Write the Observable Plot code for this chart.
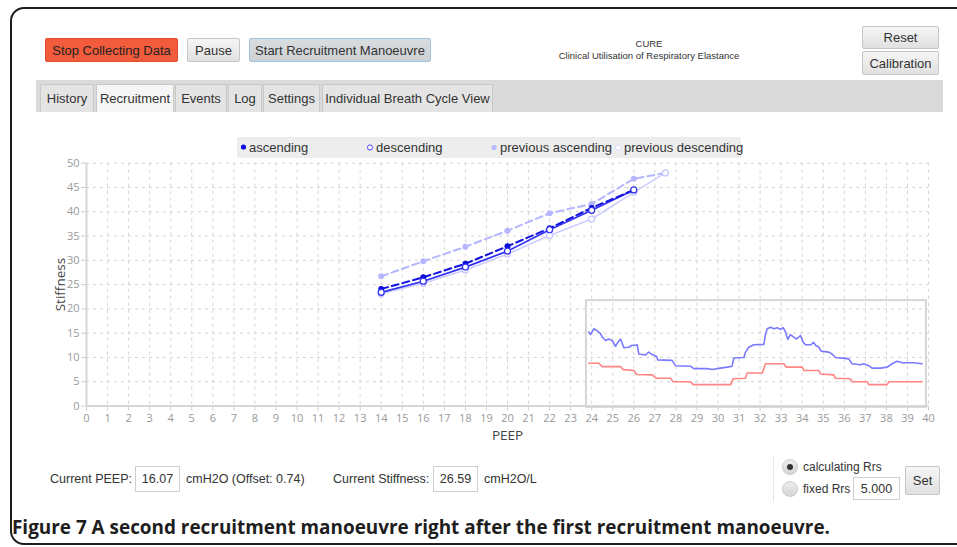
<!DOCTYPE html>
<html>
<head>
<meta charset="utf-8">
<script src="https://cdn.jsdelivr.net/npm/d3@7"></script>
<script src="https://cdn.jsdelivr.net/npm/@observablehq/plot@0.6"></script>
<style>
  html, body { margin:0; padding:0; background:#fff; }
  body { width:957px; height:547px; position:relative; overflow:hidden; font-family:"Liberation Sans", Arial, sans-serif; color:#333; }
  .abs { position:absolute; }
  .frame { left:10px; top:7px; width:1000px; height:534px; border:2px solid #1e1e1e; border-radius:14px; }
  .btn { position:absolute; box-sizing:border-box; border:1px solid #c6c6c6; border-radius:2px; background:linear-gradient(#f6f6f6,#e0e0e0); font-size:13px; color:#333; display:flex; align-items:center; justify-content:center; white-space:nowrap; }
  .tabbar { left:36px; top:80px; width:907px; height:32px; background:#dadada; }
  .tab { position:absolute; top:84px; height:28px; box-sizing:border-box; border:1px solid #c9c9c9; border-bottom:none; background:#e4e4e4; font-size:13px; color:#333; display:flex; align-items:center; justify-content:center; white-space:nowrap; }
  .lbl { position:absolute; font-size:12.5px; color:#333; white-space:nowrap; transform:translateY(-50%); }
  .inp { position:absolute; box-sizing:border-box; border:1px solid #cfcfcf; background:#fff; font-size:12.5px; color:#333; display:flex; align-items:center; justify-content:center; }
  .legend { left:237px; top:137px; width:504px; height:21px; background:#ededed; border-radius:2px; }
  .li { position:absolute; top:147px; transform:translateY(-50%); font-size:13px; color:#333; white-space:nowrap; display:flex; align-items:center; }
  .li svg { margin-right:2px; }
</style>
</head>
<body>
<div class="abs frame"></div>

<div class="btn" style="left:45px;top:38px;width:133px;height:24px;background:#f25c3c;border-color:#e04a2a;color:#222;">Stop Collecting Data</div>
<div class="btn" style="left:187px;top:38px;width:53px;height:24px;">Pause</div>
<div class="btn" style="left:249px;top:38px;width:182px;height:24px;background:linear-gradient(#d8dcdf,#cdd1d4);border-color:#9fc6e2;">Start Recruitment Manoeuvre</div>
<div class="abs" style="left:549px;top:38px;width:200px;text-align:center;font-size:9.5px;line-height:11.5px;color:#333;">CURE<br>Clinical Utilisation of Respiratory Elastance</div>
<div class="btn" style="left:862px;top:26px;width:77px;height:23px;">Reset</div>
<div class="btn" style="left:862px;top:51px;width:77px;height:24px;">Calibration</div>

<div class="abs tabbar"></div>
<div class="tab" style="left:40px;width:54px;">History</div>
<div class="tab" style="left:96px;width:78px;background:#f6f6f6;">Recruitment</div>
<div class="tab" style="left:175px;width:52px;">Events</div>
<div class="tab" style="left:228px;width:34px;">Log</div>
<div class="tab" style="left:263px;width:57px;">Settings</div>
<div class="tab" style="left:322px;width:171px;">Individual Breath Cycle View</div>

<div id="chart" class="abs" style="left:0;top:130px;"></div>

<div class="abs legend"></div>
<div class="li" style="left:240px;"><svg width="7" height="7"><circle cx="3.5" cy="3.5" r="2.6" fill="#1010e8"/></svg>ascending</div>
<div class="li" style="left:366px;"><svg width="8" height="8"><circle cx="4" cy="4" r="2.6" fill="#fff" stroke="#4a4aff" stroke-width="1"/></svg>descending</div>
<div class="li" style="left:490px;"><svg width="8" height="8"><circle cx="4" cy="4" r="2.6" fill="#b8b8ff"/></svg>previous ascending</div>
<div class="li" style="left:614px;"><svg width="8" height="8"><circle cx="4" cy="4" r="2.6" fill="#fff" stroke="#dcdcff" stroke-width="1"/></svg>previous descending</div>

<div class="lbl" style="left:50px;top:479px;">Current PEEP:</div>
<div class="inp" style="left:135px;top:466px;width:45px;height:26px;">16.07</div>
<div class="lbl" style="left:186px;top:479px;">cmH2O (Offset: 0.74)</div>
<div class="lbl" style="left:333px;top:479px;">Current Stiffness:</div>
<div class="inp" style="left:433px;top:466px;width:45px;height:26px;">26.59</div>
<div class="lbl" style="left:484px;top:479px;">cmH2O/L</div>

<div class="abs" style="left:773px;top:456px;width:1px;height:46px;background:#e6e6e6;"></div>
<div class="abs" style="left:782px;top:459px;width:16px;height:16px;border-radius:50%;background:linear-gradient(#eee,#d4d4d4);border:1px solid #ccc;box-sizing:border-box;"></div>
<div class="abs" style="left:787px;top:464px;width:6px;height:6px;border-radius:50%;background:#333;"></div>
<div class="abs" style="left:782px;top:481px;width:16px;height:16px;border-radius:50%;background:linear-gradient(#eee,#d4d4d4);border:1px solid #ccc;box-sizing:border-box;"></div>
<div class="lbl" style="left:803px;top:467px;font-size:12px;">calculating Rrs</div>
<div class="lbl" style="left:803px;top:489px;font-size:12px;">fixed Rrs</div>
<div class="inp" style="left:853px;top:477px;width:47px;height:23px;">5.000</div>
<div class="btn" style="left:905px;top:466px;width:35px;height:29px;">Set</div>

<div id="caption" class="abs" style="left:12px;top:515px;font-family:'Open Sans',sans-serif;font-weight:700;font-size:19px;line-height:24px;color:#1e1e1e;white-space:nowrap;transform-origin:left center;">Figure 7 A second recruitment manoeuvre right after the first recruitment manoeuvre.</div>

<script>
// ---- tick labels ----
const xTicks = [0,1,2,3,4,5,6,7,8,9,10,11,12,13,14,15,16,17,18,19,20,21,22,23,24,25,26,27,28,29,30,31,32,33,34,35,36,37,38,39,40];
const yTicks = [0,5,10,15,20,25,30,35,40,45,50];

// ---- current manoeuvre ----
const ascPeep  = [14, 16, 18, 20, 22, 24, 26];
const ascStiff = [24.1, 26.5, 29.3, 32.9, 36.6, 40.8, 44.5];
const descPeep  = [26, 24, 22, 20, 18, 16, 14];
const descStiff = [44.5, 40.3, 36.3, 31.9, 28.6, 25.7, 23.4];

// ---- previous manoeuvre ----
const prevAscPeep  = [14, 16, 18, 20, 22, 24, 26, 27.5];
const prevAscStiff = [26.7, 29.8, 32.8, 36.1, 39.7, 41.6, 46.8, 48.0];
const prevDescPeep  = [27.5, 26, 24, 22, 20, 18, 16, 14];
const prevDescStiff = [48.0, 44.0, 38.5, 35.1, 31.3, 28.0, 25.3, 23.1];

// ---- inset traces (drawn in main chart units) ----
const blueX = [23.86,23.94,24.1,24.26,24.42,24.5,24.66,24.8,24.97,25.13,25.24,25.37,25.53,25.76,25.92,26.08,26.16,26.24,26.56,26.71,26.87,27.08,27.14,27.82,27.98,28.69,28.85,29.48,29.72,30.12,30.44,30.67,30.75,31.23,31.31,31.46,31.7,32.18,32.26,32.34,32.5,32.66,32.8,32.97,33.1,33.2,33.32,33.44,33.6,33.73,33.92,34.05,34.16,34.4,34.55,34.63,34.79,34.9,35.26,35.42,35.58,36.06,36.21,36.37,36.77,36.93,37.16,37.32,37.72,38.04,38.27,38.51,38.75,39.3,39.7];
const blueY = [15.2,14.7,15.9,15.5,14.9,14.2,13.5,13.8,13.5,12.3,13.1,13.8,12.0,12.1,12.5,12.5,12.6,10.7,10.5,11.1,10.6,10.2,9.5,9.4,8.3,8.2,7.7,7.7,7.5,7.8,8.0,8.2,9.9,10.0,11.1,12.1,12.6,12.7,14.9,15.9,16.2,15.9,16.1,15.8,16.1,15.3,13.7,14.7,14.2,13.8,14.5,13.1,12.6,12.6,13.1,12.5,12.1,11.3,11.1,10.7,10.0,9.8,9.7,8.7,8.5,8.7,8.3,7.8,7.8,8.0,8.7,9.2,8.9,8.9,8.7];
const redX = [23.86,24.34,24.5,25.37,25.5,26.0,26.13,26.87,27.08,27.74,27.87,28.69,28.82,30.6,30.72,31.3,31.39,32.1,32.26,33.13,33.25,34.0,34.08,34.79,34.87,35.5,35.58,36.29,36.37,37.09,37.16,38.04,38.12,39.7];
const redY = [8.8,8.8,8.1,8.1,7.5,7.3,6.5,6.4,5.7,5.7,5.0,5.0,4.4,4.4,5.6,5.7,6.8,6.8,8.7,8.7,8.0,8.0,7.3,7.3,6.6,6.4,5.7,5.6,5.0,5.0,4.4,4.4,5.0,5.0];
const insetFrame = [{x1: 23.75, x2: 39.9, y1: -0.3, y2: 21.7}];

const toRows = (xs, ys) => xs.map((x, i) => ({x, y: ys[i]}));
const asc = toRows(ascPeep, ascStiff);
const desc = toRows(descPeep, descStiff);
const prevAsc = toRows(prevAscPeep, prevAscStiff);
const prevDesc = toRows(prevDescPeep, prevDescStiff);
const blue = toRows(blueX, blueY);
const red = toRows(redX, redY);

const chart = Plot.plot({
  width: 957,
  height: 320,
  marginLeft: 86,
  marginRight: 29,
  marginTop: 32.7,
  marginBottom: 44.5,
  style: {fontFamily: "'Open Sans', 'Liberation Sans', sans-serif", fontSize: "11px", color: "#999", background: "transparent", overflow: "visible"},
  x: {domain: [0, 40]},
  y: {domain: [0, 50]},
  marks: [
    Plot.gridX(xTicks, {stroke: "#d4d4d4", strokeOpacity: 1, strokeDasharray: "3,4"}),
    Plot.gridY(yTicks, {stroke: "#d4d4d4", strokeOpacity: 1, strokeDasharray: "3,4"}),
    Plot.axisX({ticks: xTicks, tickSize: 5, tickPadding: 3, label: null, stroke: "#cfcfcf", fill: "#999"}),
    Plot.axisY({ticks: yTicks, tickSize: 5, tickPadding: 2, label: null, stroke: "#cfcfcf", fill: "#999"}),
    Plot.ruleY([0], {stroke: "#d6d6d6", strokeWidth: 2}),
    Plot.ruleX([0], {stroke: "#d6d6d6", strokeWidth: 2}),
    Plot.text(["PEEP"], {frameAnchor: "bottom", dy: 30, fontSize: 13.5, fill: "#444", textAnchor: "middle", lineAnchor: "middle"}),
    Plot.text(["Stiffness"], {frameAnchor: "left", dx: -26, rotate: -90, fontSize: 13.5, fill: "#444", textAnchor: "middle", lineAnchor: "middle"}),
    // inset
    Plot.rect(insetFrame, {x1: "x1", x2: "x2", y1: "y1", y2: "y2", fill: "none", stroke: "#d6d6d6", strokeWidth: 2}),
    Plot.line(red, {x: "x", y: "y", stroke: "#ff8585", strokeWidth: 1.6}),
    Plot.line(blue, {x: "x", y: "y", stroke: "#7a7aff", strokeWidth: 1.6}),
    // previous manoeuvre
    Plot.line(prevDesc, {x: "x", y: "y", stroke: "#cdcdff", strokeWidth: 1.6}),
    Plot.line(prevAsc, {x: "x", y: "y", stroke: "#b6b6ff", strokeWidth: 2, strokeDasharray: "7,4"}),
    Plot.dot(prevAsc, {x: "x", y: "y", r: 3, fill: "#b6b6ff"}),
    Plot.dot(prevDesc, {x: "x", y: "y", r: 3, fill: "#fff", stroke: "#c4c4ff", strokeWidth: 1.2}),
    // current manoeuvre
    Plot.line(desc, {x: "x", y: "y", stroke: "#3030f4", strokeWidth: 1.7}),
    Plot.line(asc, {x: "x", y: "y", stroke: "#1212e0", strokeWidth: 2, strokeDasharray: "7,4"}),
    Plot.dot(asc, {x: "x", y: "y", r: 3, fill: "#0c0cd8"}),
    Plot.dot(desc, {x: "x", y: "y", r: 3, fill: "#fff", stroke: "#3030f0", strokeWidth: 1.2})
  ]
});
document.getElementById("chart").appendChild(chart);

// fit caption to the reference width
const cap = document.getElementById("caption");
const w = cap.getBoundingClientRect().width;
cap.style.transform = `scaleX(${818 / w})`;
</script>
</body>
</html>
